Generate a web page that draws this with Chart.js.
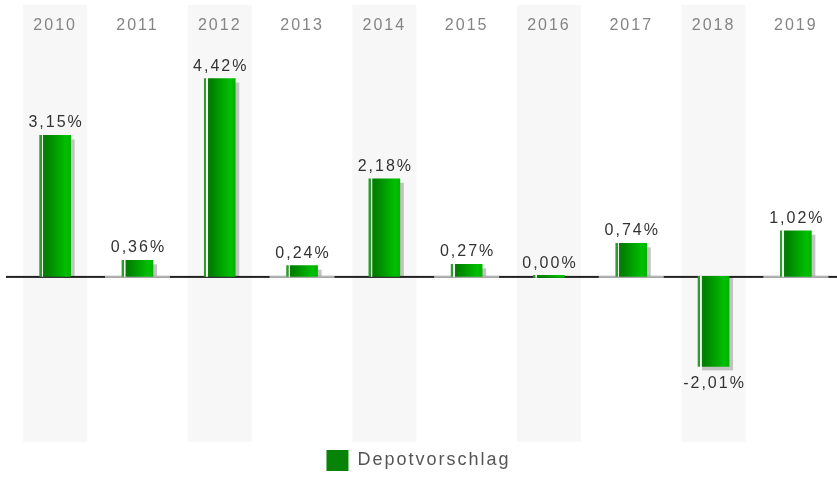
<!DOCTYPE html>
<html>
<head>
<meta charset="utf-8">
<script src="https://cdn.jsdelivr.net/npm/chart.js@4"></script>
<style>
  html, body { margin: 0; padding: 0; background: #fff; overflow: hidden; }
  #wrap { position: relative; width: 837px; height: 481px; }
</style>
</head>
<body>
<div id="wrap"><canvas id="chart"></canvas></div>
<script>
// Jahresrenditen Depotvorschlag
const years = ['2010', '2011', '2012', '2013', '2014', '2015', '2016', '2017', '2018', '2019'];
const returns = [3.15, 0.36, 4.42, 0.24, 2.18, 0.27, 0.00, 0.74, -2.01, 1.02];
const seriesName = 'Depotvorschlag';

const FONT = '"Liberation Sans", Arial, sans-serif';
const legendGreen = '#078407';

function formatPercent(v) {
    return v.toFixed(2).replace('.', ',') + '%';
}

function barFill(ctx) {
    if (ctx.type !== 'data') return legendGreen;
    const chart = ctx.chart;
    const x = chart.scales.x ? chart.scales.x.getPixelForValue(ctx.dataIndex) : NaN;
    if (!isFinite(x)) return legendGreen;
    const g = chart.ctx.createLinearGradient(x - 15.5, 0, x + 15.5, 0);
    g.addColorStop(0, '#2a9e2a');
    g.addColorStop(0.06, '#2a9e2a');
    g.addColorStop(0.07, '#f4faf4');
    g.addColorStop(0.11, '#f4faf4');
    g.addColorStop(0.12, '#0b7f0b');
    g.addColorStop(0.2, '#007f00');
    g.addColorStop(0.85, '#00c000');
    g.addColorStop(1, '#00b200');
    return g;
}

// letter spacing for all canvas text (reset on every resize)
const spacing = {
    id: 'spacing',
    beforeUpdate(chart) { chart.ctx.letterSpacing = '2px'; },
    beforeLayout(chart) { chart.ctx.letterSpacing = '2px'; },
    beforeDraw(chart) { chart.ctx.letterSpacing = '2px'; }
};

// grey bands behind every second year
const bands = {
    id: 'bands',
    beforeDraw(chart) {
        const { ctx, chartArea, scales } = chart;
        ctx.save();
        ctx.fillStyle = '#f7f7f7';
        years.forEach((y, i) => {
            if (i % 2 !== 0) return;
            const x = scales.x.getPixelForValue(i);
            ctx.fillRect(x - 32, 5, 64, chartArea.bottom - 5);
        });
        ctx.restore();
    }
};

// shadows, zero line and value labels
const baseline = {
    id: 'baseline',
    beforeDatasetsDraw(chart) {
        const { ctx, chartArea, scales } = chart;
        const meta = chart.getDatasetMeta(0);
        ctx.save();
        ctx.fillStyle = '#c3c3c3';
        meta.data.forEach((bar, i) => {
            if (returns[i] === 0) return;
            const left = bar.x - bar.width / 2 + 4;
            if (returns[i] > 0) {
                ctx.fillRect(left, bar.y + 4, bar.width, bar.base - bar.y - 4);
            } else {
                ctx.fillRect(left, bar.base, bar.width, bar.y + 4 - bar.base);
            }
        });
        const y0 = scales.y.getPixelForValue(0);
        ctx.fillStyle = '#222';
        ctx.fillRect(6, y0 - 0.5, chartArea.right - 6, 2);
        ctx.fillStyle = '#b4b4b4';
        years.forEach((y, i) => {
            if (i % 2 === 0) return;
            const x = scales.x.getPixelForValue(i);
            ctx.fillRect(x - 32.5, y0 - 0.5, 65, 2);
        });
        ctx.restore();
    },
    afterDatasetsDraw(chart) {
        const { ctx } = chart;
        const meta = chart.getDatasetMeta(0);
        ctx.save();
        ctx.letterSpacing = '2px';
        ctx.font = '16px ' + FONT;
        ctx.fillStyle = '#333';
        ctx.textAlign = 'center';
        ctx.textBaseline = 'alphabetic';
        meta.data.forEach((bar, i) => {
            const v = returns[i];
            let ty;
            if (v < 0) ty = bar.y + 22;
            else if (v === 0) ty = bar.base - 7;
            else ty = bar.y - 8;
            ctx.fillText(formatPercent(v), bar.x + 1, ty);
        });
        ctx.restore();
    }
};

new Chart(document.getElementById('chart'), {
    type: 'bar',
    data: {
        labels: years,
        datasets: [{
            label: seriesName,
            data: returns,
            backgroundColor: barFill,
            borderWidth: 0,
            barThickness: 31,
            minBarLength: 2
        }]
    },
    options: {
        responsive: true,
        maintainAspectRatio: false,
        animation: false,
        layout: { padding: { top: 12, left: 0, right: 0, bottom: 0 } },
        scales: {
            x: {
                position: 'top',
                grid: { display: false, drawTicks: false },
                border: { display: false },
                ticks: {
                    color: '#848484',
                    font: { family: FONT, size: 16 },
                    padding: 4,
                    maxRotation: 0,
                    autoSkip: false
                }
            },
            y: {
                min: -3.70,
                max: 5.30,
                grid: { display: false, drawTicks: false },
                border: { display: false },
                ticks: { display: false },
                afterFit(scale) { scale.width = 14; }
            }
        },
        plugins: {
            legend: {
                position: 'bottom',
                labels: {
                    boxWidth: 22,
                    boxHeight: 21,
                    padding: 8,
                    color: '#555',
                    font: { family: FONT, size: 18 },
                    generateLabels(chart) {
                        return [{
                            text: seriesName,
                            fillStyle: legendGreen,
                            strokeStyle: legendGreen,
                            lineWidth: 0,
                            fontColor: '#555',
                            hidden: false,
                            datasetIndex: 0
                        }];
                    }
                }
            },
            tooltip: { enabled: false }
        }
    },
    plugins: [spacing, bands, baseline]
});
</script>
</body>
</html>
